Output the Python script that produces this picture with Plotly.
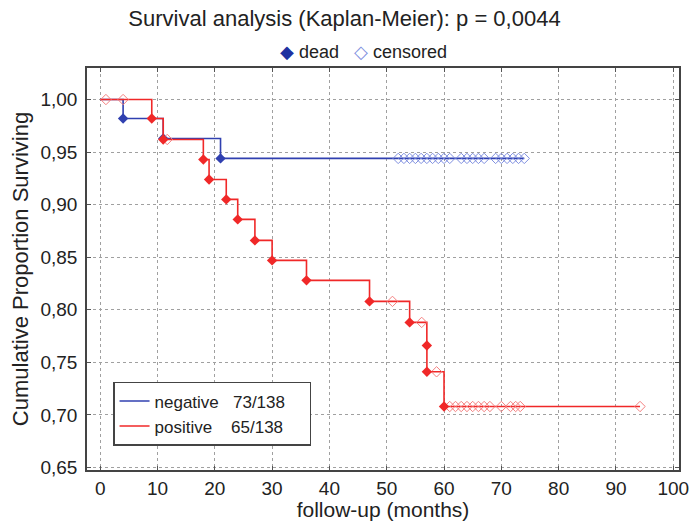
import plotly.graph_objects as go

# ---- data ----
neg_event_t = [4, 11, 21]
neg_event_s = [0.982, 0.963, 0.944]
neg_end_t = 74
neg_cens_t = [52, 53, 54, 55, 56, 57, 58, 59, 60, 61, 63, 64, 65, 66, 67, 69, 70, 71, 72, 73, 74]

pos_event_t = [9, 11, 18, 19, 22, 24, 27, 30, 36, 47, 54, 57, 57.01, 60]
pos_event_s = [0.982, 0.962, 0.943, 0.924, 0.905, 0.886, 0.866, 0.847, 0.828, 0.808, 0.788, 0.766, 0.741, 0.708]
pos_end_t = 94.2
pos_cens_t = [1, 4, 11.7, 51, 56.1, 58.7, 61, 62, 63, 64, 65, 66, 67, 68, 70, 71.6, 72.5, 73.3, 94.2]

NB = "\u00a0"
legend_names = ["negative" + NB * 3 + "73/138" + NB * 4, "positive" + NB * 4 + "65/138" + NB * 4]
title_text = "Survival analysis (Kaplan-Meier): p = 0,0044"

BLUE = "#3040b0"
RED = "#f02828"
BLUE_C = "#8090e0"
RED_C = "#f58080"
FONT = "Liberation Sans, Arial, sans-serif"


def surv_at(times, events_t, events_s):
    out = []
    for t in times:
        s = 1.0
        for et, es in zip(events_t, events_s):
            if et <= t:
                s = es
        out.append(s)
    return out


fig = go.Figure()

groups = [
    (neg_event_t, neg_event_s, neg_end_t, neg_cens_t, BLUE, BLUE_C, legend_names[0]),
    (pos_event_t, pos_event_s, pos_end_t, pos_cens_t, RED, RED_C, legend_names[1]),
]

for ev_t, ev_s, end_t, c_t, col, ccol, name in groups:
    xs = [0] + ev_t + [end_t]
    ys = [1.0] + ev_s + [ev_s[-1]]
    fig.add_trace(go.Scatter(x=xs, y=ys, mode="lines", line=dict(color=col, width=1.6, shape="hv"),
                             name=name, legend="legend2", hoverinfo="skip"))
    fig.add_trace(go.Scatter(x=c_t, y=surv_at(c_t, ev_t, ev_s), mode="markers",
                             marker=dict(symbol="diamond-open", size=8, color=ccol, line=dict(width=1, color=ccol)),
                             showlegend=False))
    fig.add_trace(go.Scatter(x=ev_t, y=ev_s, mode="markers",
                             marker=dict(symbol="diamond", size=8, color=col),
                             showlegend=False))

axis_common = dict(
    showline=True, linecolor="#444", linewidth=1.5, mirror="allticks",
    ticks="inside", ticklen=4, tickcolor="#555",
    showgrid=True, gridcolor="#a0a0a0", griddash="dot", gridwidth=1,
    zeroline=False, tickfont=dict(size=19, color="#222", family=FONT),
    automargin=False, ticklabeloverflow="allow",
)

fig.update_layout(
    width=689, height=521,
    margin=dict(l=87, r=10, t=68, b=51),
    paper_bgcolor="white", plot_bgcolor="white",
    separators=",.",
    font=dict(family=FONT, color="#222"),
    title=dict(text=title_text, x=0.5, xanchor="center", y=0.965, yanchor="middle",
               font=dict(size=22, color="#222", family=FONT)),
    xaxis=dict(range=[-2.3, 101], tickvals=list(range(0, 101, 10)),
               title=dict(text="follow-up (months)", font=dict(size=21, family=FONT), standoff=2),
               **axis_common),
    yaxis=dict(range=[0.6476, 1.030], tickvals=[0.65, 0.70, 0.75, 0.80, 0.85, 0.90, 0.95, 1.00],
               tickformat=".2f", ticklabelstandoff=4,
               title=dict(text="Cumulative Proportion Surviving", font=dict(size=22, family=FONT), standoff=6),
               **axis_common),
    legend2=dict(x=0.044, xanchor="left", y=0.06, yanchor="bottom",
                 bordercolor="#444", borderwidth=1.5, bgcolor="white",
                 font=dict(size=17, family=FONT), tracegroupgap=0),
    showlegend=True,
    annotations=[dict(
        text=("<span style='color:#2030a0'>\u25c6</span> dead" + NB * 3 +
              "<span style='color:#8090e0'>\u25c7</span> censored"),
        x=(363 - 87) / 592, xref="paper", y=1 + (68 - 52) / 402, yref="paper",
        xanchor="center", yanchor="middle", showarrow=False,
        font=dict(size=18, family=FONT, color="#222"))],
)

fig.write_html("out.html", config={"displayModeBar": False})

# remove the default 8px page margin so the figure sits at the window's corner
with open("out.html", "r", encoding="utf-8") as f:
    html = f.read()
html = html.replace("<head>", "<head><style>html,body{margin:0;padding:0;overflow:hidden}</style>", 1)
with open("out.html", "w", encoding="utf-8") as f:
    f.write(html)
